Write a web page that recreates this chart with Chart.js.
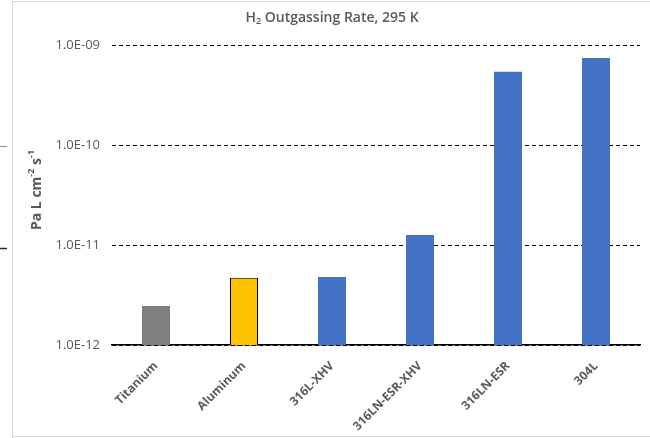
<!DOCTYPE html>
<html>
<head>
<meta charset="utf-8">
<title>H2 Outgassing Rate</title>
<script src="https://cdn.jsdelivr.net/npm/chart.js@4.4.0/dist/chart.umd.min.js"></script>
<style>
  html, body { margin: 0; padding: 0; background: #fff; }
  #wrap { position: relative; width: 650px; height: 438px; }
</style>
</head>
<body>
<div id="wrap"><canvas id="rateChart" width="650" height="438"></canvas></div>
<script>
/*******************************************************************
 *                          CHART DATA
 *******************************************************************/

const materials = ["Titanium", "Aluminum", "316L-XHV", "316LN-ESR-XHV", "316LN-ESR", "304L"];

// outgassing rate, Pa L cm^-2 s^-1
const outgassingRates = [2.45e-12, 4.7e-12, 4.8e-12, 1.26e-11, 5.4e-10, 7.4e-10];

// decades shown on the log axis
const yTicks = [1e-12, 1e-11, 1e-10, 1e-9];

/*******************************************************************
 *                          SETTINGS
 *******************************************************************/

const barColors = ["#7f7f7f", "#ffc000", "#4472c4", "#4472c4", "#4472c4", "#4472c4"];
const barBorders = [0, 1, 0, 0, 0, 0];
const textColor = "#595959";
const fontFamily = "'Open Sans', 'Liberation Sans', sans-serif";

// plot area edges in canvas pixels
const plotLeft = 112;
const plotRight = 640;
const plotTop = 45;
const plotBottom = 345;

/*******************************************************************
 *                          HELPERS
 *******************************************************************/

function formatExp(v) {
  const exp = Math.round(Math.log10(v));
  const sign = exp < 0 ? "-" : "+";
  const digits = String(Math.abs(exp)).padStart(2, "0");
  return "1.0E" + sign + digits;
}

// draws a run of [text, shift] pieces, shift -1 = subscript, 1 = superscript
function drawRich(ctx, parts, x, y, size, weight, align) {
  const small = Math.round(size * 0.65);
  let total = 0;
  parts.forEach((p) => {
    ctx.font = weight + " " + (p[1] ? small : size) + "px " + fontFamily;
    total += ctx.measureText(p[0]).width;
  });
  let cx = align === "center" ? x - total / 2 : x;
  parts.forEach((p) => {
    ctx.font = weight + " " + (p[1] ? small : size) + "px " + fontFamily;
    let dy = 0;
    if (p[1] === -1) dy = size * 0.25;
    if (p[1] === 1) dy = -size * 0.38;
    ctx.fillText(p[0], cx, y + dy);
    cx += ctx.measureText(p[0]).width;
  });
}

/*******************************************************************
 *                          PLUGINS
 *******************************************************************/

const frameAndTitles = {
  id: "frameAndTitles",
  beforeDraw(chart) {
    const ctx = chart.ctx;
    ctx.save();
    ctx.fillStyle = "#ffffff";
    ctx.fillRect(0, 0, chart.width, chart.height);

    // chart frame
    ctx.strokeStyle = "#d9d9d9";
    ctx.lineWidth = 1;
    ctx.beginPath();
    ctx.moveTo(12.5, 438);
    ctx.lineTo(12.5, 1.5);
    ctx.lineTo(650, 1.5);
    ctx.moveTo(12.5, 436.5);
    ctx.lineTo(650, 436.5);
    ctx.stroke();

    // stray ticks from the neighbouring panel
    ctx.strokeStyle = "#8c8c8c";
    ctx.beginPath();
    ctx.moveTo(0, 146.5);
    ctx.lineTo(7, 146.5);
    ctx.stroke();
    ctx.strokeStyle = "#262626";
    ctx.lineWidth = 1.5;
    ctx.beginPath();
    ctx.moveTo(0, 248.5);
    ctx.lineTo(7, 248.5);
    ctx.stroke();
    ctx.restore();
  },
  afterDraw(chart) {
    const ctx = chart.ctx;
    ctx.save();
    ctx.fillStyle = textColor;
    ctx.textBaseline = "middle";
    ctx.textAlign = "left";
    drawRich(ctx, [["H", 0], ["2", -1], [" Outgassing Rate, 295 K", 0]], 332, 18, 14, "600", "center");

    ctx.translate(37, 190);
    ctx.rotate(-Math.PI / 2);
    drawRich(ctx, [["Pa L cm", 0], ["-2", 1], [" s", 0], ["-1", 1]], 0, 0, 14, "bold", "center");
    ctx.restore();
  },
};

/*******************************************************************
 *                          CHART
 *******************************************************************/

const rateConfig = {
  type: "bar",
  data: {
    labels: materials,
    datasets: [
      {
        data: outgassingRates,
        backgroundColor: barColors,
        borderColor: "#000000",
        borderWidth: barBorders,
        categoryPercentage: 1,
        barPercentage: 28 / 88,
      },
    ],
  },
  options: {
    responsive: false,
    animation: false,
    layout: { padding: { left: 0, right: 650 - plotRight, top: plotTop, bottom: 0 } },
    plugins: {
      legend: { display: false },
      tooltip: { enabled: false },
    },
    scales: {
      x: {
        grid: { display: false },
        border: { display: true, color: "#000000", width: 1.5 },
        ticks: {
          color: textColor,
          font: { family: fontFamily, size: 12, weight: "bold" },
          minRotation: 45,
          maxRotation: 45,
          padding: 6,
          autoSkip: false,
        },
        afterFit(scale) {
          scale.height = 438 - plotBottom;
        },
      },
      y: {
        type: "logarithmic",
        min: yTicks[0],
        max: yTicks[yTicks.length - 1],
        afterBuildTicks(scale) {
          scale.ticks = yTicks.map((v) => ({ value: v }));
        },
        afterFit(scale) {
          scale.width = plotLeft;
        },
        grid: { color: "#000000", lineWidth: 1, drawTicks: false },
        border: { display: false, dash: [4, 3] },
        ticks: {
          color: textColor,
          font: { family: fontFamily, size: 13 },
          padding: 12,
          callback: (v) => formatExp(v),
        },
      },
    },
  },
  plugins: [frameAndTitles],
};

new Chart(document.getElementById("rateChart"), rateConfig);
</script>
</body>
</html>
